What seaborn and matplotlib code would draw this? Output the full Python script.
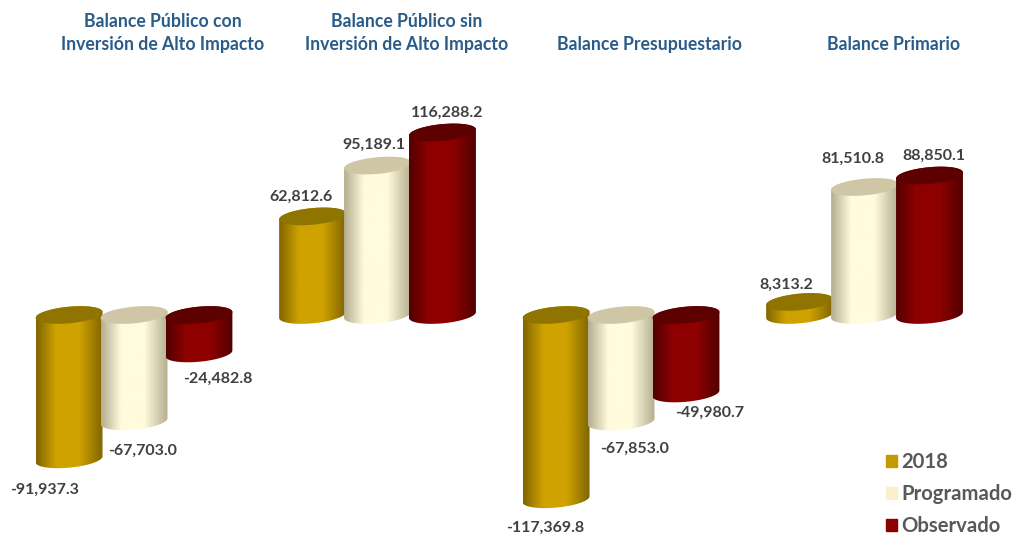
import numpy as np
import pandas as pd
import seaborn as sns
import matplotlib.pyplot as plt
from matplotlib.colors import LinearSegmentedColormap
from matplotlib.patches import Patch, Polygon

balances = ['Balance Público con\nInversión de Alto Impacto',
            'Balance Público sin\nInversión de Alto Impacto',
            'Balance Presupuestario',
            'Balance Primario']
valores_2018 = [-91937.3, 62812.6, -117369.8, 8313.2]
valores_programado = [-67703.0, 95189.1, -67853.0, 81510.8]
valores_observado = [-24482.8, 116288.2, -49980.7, 88850.1]
series = ['2018', 'Programado', 'Observado']

colores = {'2018': '#C49A00', 'Programado': '#FBF0CC', 'Observado': '#8B0000'}
# edge, middle, cap colour of each cylinder
tonos = [('#806500', '#CFA200', '#8F7400'),
         ('#B5AE90', '#FFFBDC', '#CFC6A5'),
         ('#520000', '#8E0000', '#5C0000')]
# label offsets from the end of each bar, pixels
offsets = [[(-25, -30), (-12, 20), (-11, -29), (-13, 17)],
           [(9, -30), (-4, 21), (14, -27), (-12, 28)],
           [(19, -25), (5, 20), (24, -19), (4, 20)]]

df = pd.DataFrame({'balance': balances * 3,
                   'serie': np.repeat(series, 4),
                   'valor': valores_2018 + valores_programado + valores_observado})

sns.set_style('white')
plt.rcParams['font.family'] = ['Lato', 'DejaVu Sans']

fig = plt.figure(figsize=(10.17, 5.37), dpi=100)
ax = fig.add_axes([0, 0, 1, 1])
sns.barplot(data=df, x='balance', y='valor', hue='serie', hue_order=series,
            palette=colores, width=0.8, gap=0, legend=False, errorbar=None, ax=ax)

xlim = (-0.5503, 3.626)
ylim = (-141400, 200640)
semi_y = 5300   # half height of the ellipses in data units
shear = 1900    # rise of the right side of the ellipses
t = np.linspace(0, 2 * np.pi, 121)
back = t[:61]
front = t[60:]


def ellipse(cx, half, cy, ang):
    return np.column_stack([cx + half * np.cos(ang),
                            cy + shear * np.cos(ang) + semi_y * np.sin(ang)])


for k, cont in enumerate(ax.containers):
    edge, mid, cap = tonos[k]
    cmap = LinearSegmentedColormap.from_list('c', [(0, edge), (0.3, mid), (0.65, mid), (1, edge)], N=128)
    vals = [valores_2018, valores_programado, valores_observado][k]
    for j, bar in enumerate(cont):
        bar.set_visible(False)
        w = bar.get_width()
        cx = bar.get_x() + w / 2
        half = w / 2 * 1.03
        val = vals[j]
        top = max(val, 0)
        low = min(val, 0)
        z = 2 + k * 2
        body = Polygon(np.vstack([ellipse(cx, half, top, back),
                                  ellipse(cx, half, low, front)]),
                       closed=True, transform=ax.transData, fc='none', ec='none')
        ax.add_patch(body)
        im = ax.imshow(np.linspace(0, 1, 128).reshape(1, -1), cmap=cmap, aspect='auto',
                       extent=(cx - half, cx + half, low - 9000, top + 9000), zorder=z)
        im.set_clip_path(body)
        ax.add_patch(Polygon(ellipse(cx, half, top, t), closed=True, fc=cap, ec='none', zorder=z + 1))

        dx, dy = offsets[k][j]
        ax.annotate(f'{val:,.1f}', xy=(cx, val), xytext=(dx, dy), textcoords='offset pixels',
                    ha='center', va='center', fontsize=11.5, fontweight='bold', color='#404040', zorder=10)

for i, nombre in enumerate(balances):
    ypos = 0.9385 if '\n' in nombre else 0.918
    ax.text(i + 0.118, ypos, nombre, transform=ax.get_xaxis_transform(), ha='center', va='center',
            fontsize=12.7, fontweight='bold', color='#2A5C8A', linespacing=1.45)

handles = [Patch(color=colores[s], label=s) for s in series]
leg = ax.legend(handles=handles, loc='lower left', bbox_to_anchor=(886 / 1017, 0.002), frameon=False,
                prop={'size': 14.6, 'weight': 'bold'}, labelcolor='#595959', handlelength=0.54,
                handleheight=0.54, handletextpad=0.2, labelspacing=0.58, borderpad=0, borderaxespad=0)

ax.set_xlim(xlim)
ax.set_ylim(ylim)
ax.axis('off')

fig.savefig('out.png', dpi=100)
